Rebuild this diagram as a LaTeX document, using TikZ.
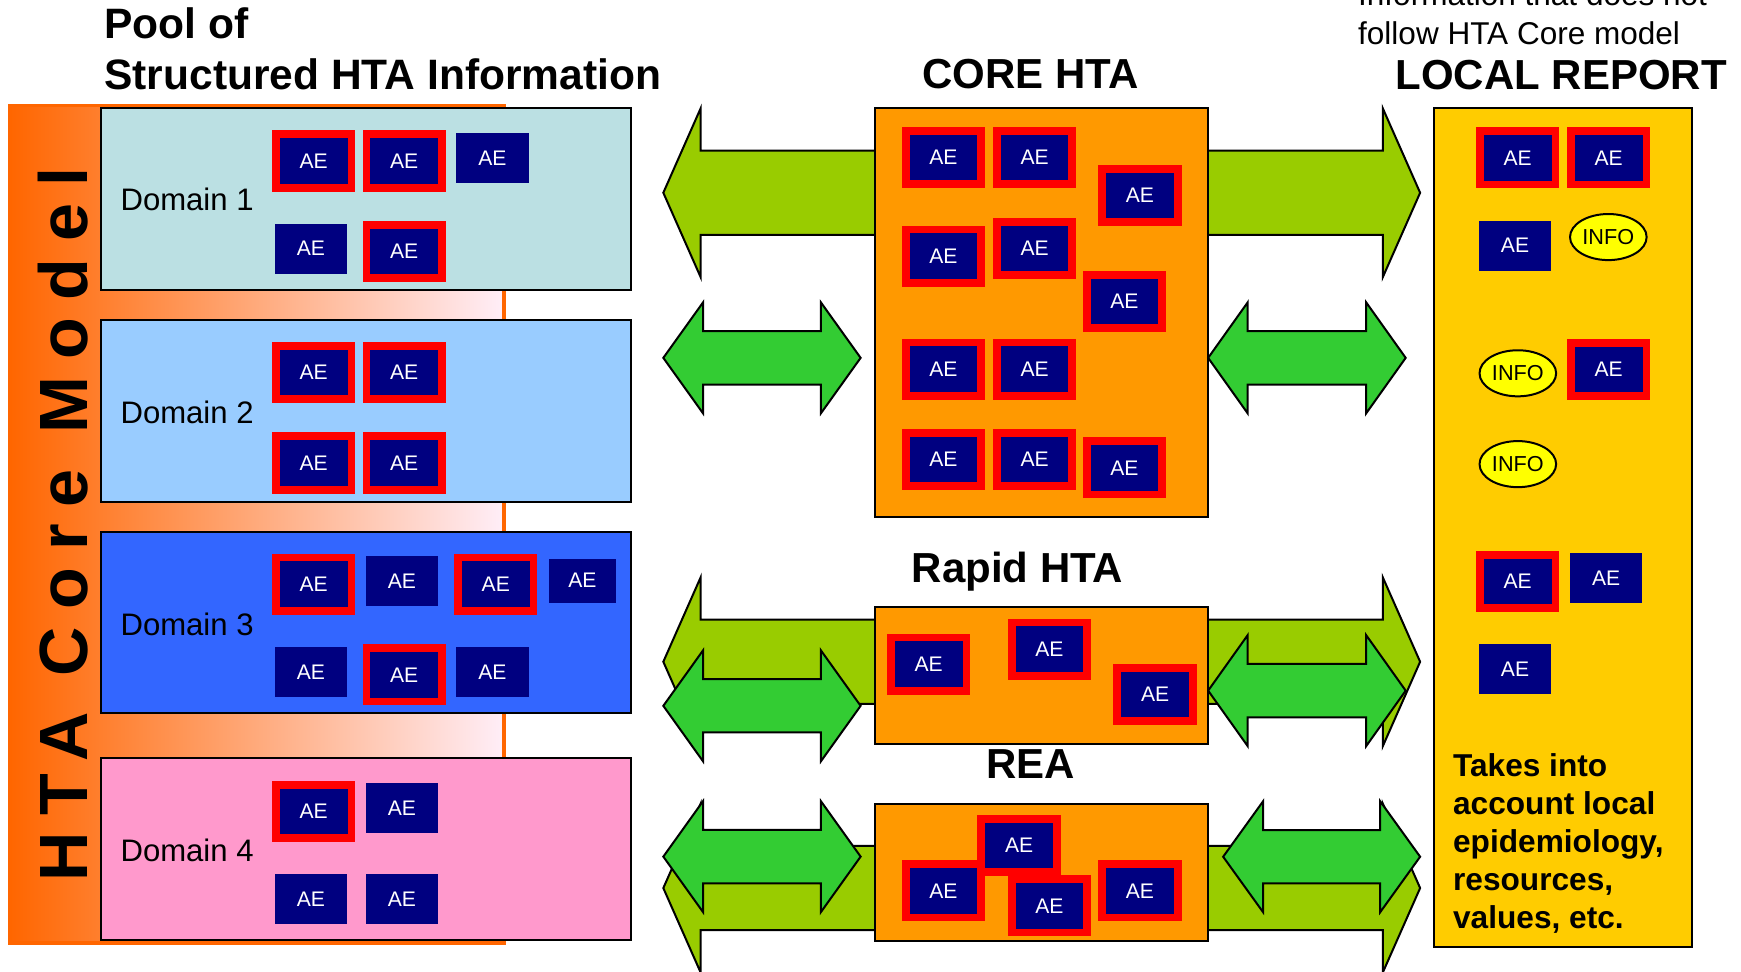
\documentclass[tikz,border=0pt]{standalone}
\usepackage{fontspec}
\setmainfont{Liberation Sans}
\newfontfamily\spacedbold[LetterSpace=25]{Liberation Sans Bold}
\usetikzlibrary{shapes.geometric}
\definecolor{aenavy}{HTML}{000080}
\definecolor{aered}{HTML}{FF0000}
\definecolor{domone}{HTML}{BBE0E3}
\definecolor{domtwo}{HTML}{99CCFF}
\definecolor{domthree}{HTML}{3366FF}
\definecolor{domfour}{HTML}{FF99CC}
\definecolor{coreorange}{HTML}{FF9900}
\definecolor{localgold}{HTML}{FFCC00}
\definecolor{lightgreen}{HTML}{99CC00}
\definecolor{brightgreen}{HTML}{33CC33}
\definecolor{bandorange}{HTML}{FF6600}
\definecolor{bandpink}{HTML}{FFEEF8}
\definecolor{infoyellow}{HTML}{FFFF00}
% double arrow: x1, x2, yc, shaft half, head half, head length, colour
\newcommand{\dblarr}[7]{%
  \filldraw[fill=#7, draw=black, line width=1.8, line join=miter]
    (#1,#3) -- ({#1+#6},{#3-#5}) -- ({#1+#6},{#3-#4}) -- ({#2-#6},{#3-#4})
    -- ({#2-#6},{#3-#5}) -- (#2,#3) -- ({#2-#6},{#3+#5}) -- ({#2-#6},{#3+#4})
    -- ({#1+#6},{#3+#4}) -- ({#1+#6},{#3+#5}) -- cycle;}
\tikzset{
  ae/.style={rectangle, fill=aenavy, inner sep=0pt, minimum width=65, minimum height=45,
    text=white, font=\fontsize{19}{22}\selectfont},
  aef/.style={ae, draw=aered, line width=7, minimum width=68, minimum height=48},
  info/.style={ellipse, fill=infoyellow, draw=black, line width=1.8, minimum width=69,
    minimum height=41.5, inner sep=0pt, font=\fontsize{19.5}{22}\selectfont},
  panel/.style={rectangle, draw=black, line width=1.8, inner sep=0pt},
  ttl/.style={font=\bfseries\fontsize{37.8}{46}\selectfont, inner sep=0pt, anchor=base},
  domlabel/.style={font=\fontsize{28}{34}\selectfont, inner sep=0pt, anchor=base west},
}
\begin{document}
\begin{tikzpicture}[x=1pt,y=-1pt]
\fill[white] (0,0) rectangle (1568,875);
\useasboundingbox (0,0) rectangle (1568,875);

% ---------- left band ----------
\node[rectangle, left color=bandorange, right color=bandpink, draw=bandorange, line width=3.5,
  minimum width=445, minimum height=754.5, inner sep=0pt] (band) at (231.5,472.25) {};
\node[rotate=90, anchor=base, inner sep=0pt,
  font=\spacedbold\fontsize{61.5}{70}\selectfont] (vtext) at (78.6,472.5) {HTA Core Model};

% ---------- domains ----------
\node[panel, fill=domone, minimum width=477.5, minimum height=164] (dom1) at (329.75,179) {};
\node[panel, fill=domtwo, minimum width=477.5, minimum height=164] (dom2) at (329.75,370) {};
\node[panel, fill=domthree, minimum width=477.5, minimum height=163] (dom3) at (329.75,560.5) {};
\node[panel, fill=domfour, minimum width=477.5, minimum height=163.5] (dom4) at (329.75,764.75) {};
\node[domlabel] (lab1) at (108.4,190) {Domain 1};
\node[domlabel] (lab2) at (108.4,381.3) {Domain 2};
\node[domlabel] (lab3) at (108.4,572) {Domain 3};
\node[domlabel] (lab4) at (108.4,776) {Domain 4};

\node[aef] (d1a) at (282.5,145) {AE};
\node[aef] (d1b) at (364,145) {AE};
\node[ae]  (d1c) at (443.5,142.5) {AE};
\node[ae]  (d1d) at (280,224) {AE};
\node[aef] (d1e) at (364,226.5) {AE};

\node[aef] (d2a) at (282.5,335.5) {AE};
\node[aef] (d2b) at (364,335.5) {AE};
\node[aef] (d2c) at (282.5,417) {AE};
\node[aef] (d2d) at (364,417) {AE};

\node[aef] (d3a) at (282.5,526) {AE};
\node[ae]  (d3b) at (362,523.6) {AE};
\node[aef] (d3c) at (446.5,526) {AE};
\node[ae, minimum width=61, minimum height=40] (d3d) at (524.5,523) {AE};
\node[ae]  (d3e) at (280,605) {AE};
\node[aef] (d3f) at (364,607.7) {AE};
\node[ae]  (d3g) at (443.5,605) {AE};

\node[aef] (d4a) at (282.5,730.7) {AE};
\node[ae]  (d4b) at (362,728) {AE};
\node[ae]  (d4c) at (280,810) {AE};
\node[ae]  (d4d) at (362,810) {AE};

% ---------- titles ----------
\node[anchor=base west, inner sep=0pt, font=\bfseries\fontsize{38.3}{46}\selectfont] (pool)
  at (93.8,34.5) {\begin{tabular}[t]{@{}l@{}}Pool of\\Structured HTA Information\end{tabular}};
\node[ttl] (tcore) at (928,80) {CORE HTA};
\node[ttl] (tlocal) at (1406,80.5) {LOCAL REPORT};
\node[ttl] (trapid) at (916.4,524.5) {Rapid HTA};
\node[ttl] (trea) at (928.3,701) {REA};
\node[anchor=base west, inner sep=0pt, font=\fontsize{28.4}{35.1}\selectfont] (note)
  at (1223,5.4) {\begin{tabular}[t]{@{}l@{}}Information that does not\\follow HTA Core model\end{tabular}};

% ---------- wide light-green arrows ----------
\dblarr{597.4}{1279}{173.6}{38}{76}{33.6}{lightgreen}
\dblarr{597.4}{1279}{596}{38}{76}{33.6}{lightgreen}
\dblarr{597.4}{1279}{799.8}{38}{76}{33.6}{lightgreen}

% ---------- middle boxes ----------
\node[panel, fill=coreorange, minimum width=299.9, minimum height=368.1] (core) at (938.15,281.75) {};
\node[panel, fill=coreorange, minimum width=299.9, minimum height=123.4] (rapid) at (938.15,608.7) {};
\node[panel, fill=coreorange, minimum width=299.9, minimum height=123.4] (rea) at (938.15,785.6) {};

% ---------- bright-green arrows ----------
\dblarr{597.4}{775.1}{322.3}{24}{50}{35.8}{brightgreen}
\dblarr{1088.1}{1266}{322.3}{24}{50}{35.6}{brightgreen}
\dblarr{597.4}{775.1}{635.7}{24}{50}{35.8}{brightgreen}
\dblarr{1088.1}{1266}{622}{24}{50}{35.6}{brightgreen}
\dblarr{597.4}{775.1}{771.5}{24}{50}{35.8}{brightgreen}
\dblarr{1101.6}{1279}{771.6}{24}{50}{36}{brightgreen}

% ---------- core AEs ----------
\node[aef] (c1) at (849.7,141.9) {AE};
\node[aef] (c2) at (931.8,141.9) {AE};
\node[aef] (c3) at (1026.7,176) {AE};
\node[aef] (c4) at (849.7,230.6) {AE};
\node[aef] (c5) at (931.8,223.6) {AE};
\node[aef] (c6) at (1012.7,271.5) {AE};
\node[aef] (c7) at (849.7,332.5) {AE};
\node[aef] (c8) at (931.8,332.5) {AE};
\node[aef] (c9) at (849.7,413.9) {AE};
\node[aef] (c10) at (931.8,413.9) {AE};
\node[aef] (c11) at (1012.7,421.3) {AE};

\node[aef] (r1) at (836.4,598.2) {AE};
\node[aef] (r2) at (945.1,584.7) {AE};
\node[aef] (r3) at (1040.3,625.5) {AE};

\node[aef] (e2) at (917.8,761.5) {AE};
\node[aef] (e1) at (849.7,802.4) {AE};
\node[aef] (e3) at (945.1,815.9) {AE};
\node[aef] (e4) at (1026.7,802.4) {AE};

% ---------- local report ----------
\node[panel, fill=localgold, minimum width=232, minimum height=755.6] (local) at (1407.6,475.4) {};
\node[aef] (l1) at (1366.9,142.1) {AE};
\node[aef] (l2) at (1448.8,142.1) {AE};
\node[ae]  (l3) at (1364.5,221.3) {AE};
\node[info] (i1) at (1448.5,213.5) {INFO};
\node[info] (i2) at (1367,336.2) {INFO};
\node[aef] (l4) at (1448.8,332.6) {AE};
\node[info] (i3) at (1367,418) {INFO};
\node[aef] (l5) at (1366.9,523.5) {AE};
\node[ae]  (l6) at (1446.5,520.9) {AE};
\node[ae]  (l7) at (1364.5,602.5) {AE};
\node[anchor=base west, inner sep=0pt, font=\bfseries\fontsize{28.5}{34.15}\selectfont] (takes)
  at (1308.5,699.5) {\begin{tabular}[t]{@{}l@{}}Takes into\\account local\\epidemiology,\\resources,\\values, etc.\end{tabular}};
\end{tikzpicture}
\end{document}
